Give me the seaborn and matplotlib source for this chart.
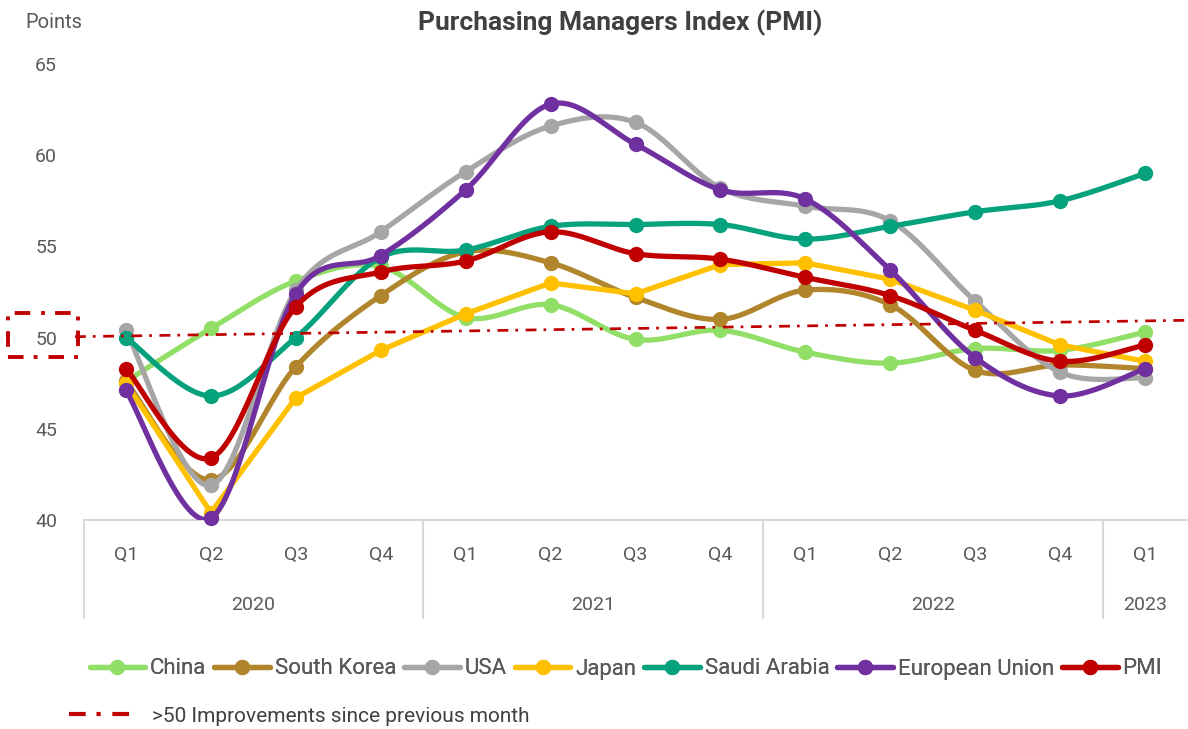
import numpy as np
import pandas as pd
import matplotlib.pyplot as plt
import seaborn as sns
from matplotlib.lines import Line2D
from matplotlib.patches import Rectangle

quarters = ['Q1', 'Q2', 'Q3', 'Q4', 'Q1', 'Q2', 'Q3', 'Q4', 'Q1', 'Q2', 'Q3', 'Q4', 'Q1']
quarter_years = ['2020'] * 4 + ['2021'] * 4 + ['2022'] * 4 + ['2023']

china = [47.6, 50.5, 53.1, 53.9, 51.1, 51.8, 49.9, 50.4, 49.2, 48.6, 49.4, 49.3, 50.3]
south_korea = [47.6, 42.2, 48.4, 52.3, 54.7, 54.1, 52.2, 51.0, 52.6, 51.8, 48.2, 48.5, 48.3]
usa = [50.4, 41.9, 52.6, 55.8, 59.1, 61.6, 61.8, 58.2, 57.2, 56.4, 52.0, 48.1, 47.8]
japan = [47.5, 40.4, 46.7, 49.3, 51.3, 53.0, 52.4, 54.0, 54.1, 53.2, 51.5, 49.6, 48.7]
saudi_arabia = [50.0, 46.8, 50.0, 54.4, 54.8, 56.1, 56.2, 56.2, 55.4, 56.1, 56.9, 57.5, 59.0]
european_union = [47.1, 40.1, 52.4, 54.5, 58.1, 62.8, 60.6, 58.1, 57.6, 53.7, 48.9, 46.8, 48.3]
pmi = [48.3, 43.4, 51.7, 53.6, 54.2, 55.8, 54.6, 54.3, 53.3, 52.3, 50.4, 48.7, 49.6]

series_names = ['China', 'South Korea', 'USA', 'Japan', 'Saudi Arabia', 'European Union', 'PMI']
series_values = [china, south_korea, usa, japan, saudi_arabia, european_union, pmi]
series_colors = ['#92DF68', '#B1852B', '#A6A6A6', '#FFC000', '#05A27D', '#7030A0', '#C00000']
series_smooth = [True, True, True, False, True, True, True]

# threshold line (start / end in category units)
trend_x = [-0.6, 12.5]
trend_y = [50.05, 50.95]
trend_label = '>50 Improvements since previous month'


def smooth_curve(y, n=30):
    # excel-like smoothing: bezier segments with catmull-rom control points
    y = np.asarray(y, dtype=float)
    x = np.arange(len(y), dtype=float)
    px = np.concatenate([[x[0]], x, [x[-1]]])
    py = np.concatenate([[y[0]], y, [y[-1]]])
    xs, ys = [], []
    t = np.linspace(0, 1, n)
    for i in range(len(y) - 1):
        p0 = np.array([px[i + 1], py[i + 1]])
        p3 = np.array([px[i + 2], py[i + 2]])
        c1 = p0 + (p3 - np.array([px[i], py[i]])) / 6
        c2 = p3 - (np.array([px[i + 3], py[i + 3]]) - p0) / 6
        b = ((1 - t) ** 3)[:, None] * p0 + (3 * (1 - t) ** 2 * t)[:, None] * c1 \
            + (3 * (1 - t) * t ** 2)[:, None] * c2 + (t ** 3)[:, None] * p3
        xs.extend(b[:, 0])
        ys.extend(b[:, 1])
    return np.array(xs), np.array(ys)


sns.set_theme(style='white')
plt.rcParams['font.family'] = ['Roboto', 'DejaVu Sans']

fig = plt.figure(figsize=(11.88, 7.29), dpi=100)
ax = fig.add_axes([83.5 / 1188, 1 - 520 / 729, 1104 / 1188, 456 / 729])

idx = np.arange(len(quarters))
for k, (name, vals, col, sm) in enumerate(zip(series_names, series_values, series_colors, series_smooth)):
    if sm:
        xs, ys = smooth_curve(vals)
    else:
        xs, ys = idx.astype(float), np.asarray(vals)
    df = pd.DataFrame({'x': xs, 'y': ys})
    sns.lineplot(data=df, x='x', y='y', color=col, lw=3.8, sort=False, ax=ax,
                 zorder=3 + k, solid_capstyle='round')
    ax.plot(idx, vals, 'o', color=col, ms=10, zorder=3 + k, clip_on=False)

dash_style = (0, (4, 2.6, 1, 2.8))
ax.plot(trend_x, trend_y, color='#C00000', lw=1.95, ls=dash_style, zorder=20, clip_on=False)
ax.add_patch(Rectangle((-1.39, 48.94), 0.82, 2.42, fill=False, edgecolor='#C00000',
                       lw=2.8, ls=dash_style, clip_on=False, zorder=20))

ax.set_xlim(-0.5, 12.5)
ax.set_ylim(40, 65)
ax.set_yticks([40, 45, 50, 55, 60, 65])
ax.set_xticks(idx)
ax.set_xticklabels(quarters)
ax.set_xlabel('')
ax.set_ylabel('')
ax.tick_params(axis='y', labelsize=14, labelcolor='#595959', pad=19, length=0)
ax.tick_params(axis='x', labelsize=14, labelcolor='#595959', pad=19, length=0)
for s in ['left', 'right', 'top']:
    ax.spines[s].set_visible(False)
ax.spines['bottom'].set_color('#D9D9D9')
ax.spines['bottom'].set_linewidth(1.5)

# year groups under the quarters
trans = ax.get_xaxis_transform()
groups = pd.Series(idx).groupby(quarter_years)
for yr, g in groups:
    ax.text(g.mean(), -0.187, yr, transform=trans, ha='center', va='center',
            fontsize=14, color='#595959')
    ax.plot([g.min() - 0.5, g.min() - 0.5], [0, -0.215], transform=trans,
            color='#D9D9D9', lw=1.5, clip_on=False)

fig.text(620 / 1188, 1 - 23 / 729, 'Purchasing Managers Index (PMI)', ha='center', va='center',
         fontsize=19, fontweight='bold', color='#404040')
fig.text(25 / 1188, 1 - 22 / 729, 'Points', ha='left', va='center', fontsize=14.5, color='#595959')

handles = [Line2D([], [], color=c, lw=3.8, marker='o', ms=10) for c in series_colors]
leg = fig.legend(handles, series_names, loc='center', bbox_to_anchor=(626 / 1188, 1 - 669 / 729),
                 ncol=7, frameon=False, fontsize=16, handlelength=2.5, handletextpad=0.22,
                 columnspacing=0.36, labelcolor='#595959')
fig.add_artist(leg)
th = [Line2D([], [], color='#C00000', lw=3.0, ls=dash_style)]
fig.legend(th, [trend_label], loc='center left', bbox_to_anchor=(50 / 1188, 1 - 716 / 729),
           frameon=False, fontsize=15, handlelength=3.0, handletextpad=1.0, labelcolor='#404040')

fig.savefig('out.png', dpi=100)
